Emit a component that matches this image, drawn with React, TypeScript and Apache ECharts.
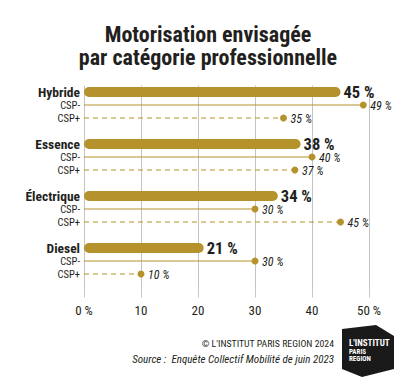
import React, { useEffect, useRef } from "react";
import * as echarts from "echarts";

const categories = ["Hybride", "Essence", "Électrique", "Diesel"];
const ensemble = [45, 38, 34, 21];
const cspMoins = [49, 40, 30, 30];
const cspPlus = [35, 37, 45, 10];
const subLabels = ["CSP-", "CSP+"];
const xTickLabels = ["0 %", "10", "20", "30", "40", "50 %"];

const GOLD = "#b5922b";
const DARK = "#231f20";
const GRID = "#c4c4c4";
const FONT = "'Roboto Condensed', 'DejaVu Sans Condensed', sans-serif";

// 4 slots per group: main bar, CSP-, CSP+, spacer
const slots: string[] = [];
categories.forEach((c) => {
  slots.push(c);
  subLabels.forEach((s) => slots.push(c + "|" + s));
  slots.push(c + "|gap");
});

const barData = slots.map((s, k) => (k % 4 === 0 ? ensemble[k / 4] : "-"));
const moinsData = cspMoins.map((v, i) => [v, i * 4 + 1]);
const plusData = cspPlus.map((v, i) => [v, i * 4 + 2]);

function makeRender(dashed: boolean) {
  return (params: any, api: any) => {
    const v = api.value(0);
    const s = api.value(1);
    const p0 = api.coord([0, s]);
    const p1 = api.coord([v, s]);
    return {
      type: "group",
      children: [
        {
          type: "line",
          shape: { x1: p0[0], y1: p0[1], x2: p1[0], y2: p1[1] },
          style: { stroke: GOLD, lineWidth: 1, lineDash: dashed ? [5, 4] : null },
        },
        {
          type: "circle",
          shape: { cx: p1[0], cy: p1[1], r: 3.5 },
          style: { fill: GOLD },
        },
        {
          type: "text",
          x: p1[0] + 7,
          y: p1[1] + 1,
          style: {
            text: v + " %",
            fontFamily: FONT,
            fontStyle: "italic",
            fontSize: 12,
            lineHeight: 12,
            fill: DARK,
            align: "left",
            verticalAlign: "middle",
          },
        },
      ],
    };
  };
}

export default function App() {
  const ref = useRef<HTMLDivElement>(null);
  useEffect(() => {
    const chart = echarts.init(ref.current!, null, { renderer: "svg" });
    chart.setOption({
      animation: false,
      backgroundColor: "#ffffff",
      textStyle: { fontFamily: FONT },
      grid: { left: 84, right: 38, top: 85.5, height: 208, containLabel: false },
      xAxis: {
        type: "value",
        min: 0,
        max: 50,
        interval: 10,
        axisLine: { show: false },
        axisTick: { show: true, length: 4, lineStyle: { color: GRID, width: 1 } },
        splitLine: { show: true, lineStyle: { color: GRID, width: 1 } },
        axisLabel: {
          margin: 10,
          fontFamily: FONT,
          fontSize: 13,
          color: DARK,
          formatter: (v: number) => xTickLabels[Math.round(v / 10)],
        },
      },
      yAxis: {
        type: "category",
        inverse: true,
        data: slots,
        axisLine: { show: false },
        axisTick: { show: false },
        splitLine: { show: false },
        axisLabel: {
          margin: 4,
          interval: 0,
          formatter: (s: string) => {
            const parts = s.split("|");
            if (parts.length === 1) return "{main|" + parts[0] + "}";
            if (parts[1] === "gap") return "";
            return "{sub|" + parts[1] + "}";
          },
          rich: {
            main: { fontFamily: FONT, fontWeight: "bold", fontSize: 13.5, lineHeight: 14, color: DARK },
            sub: { fontFamily: FONT, fontSize: 10.5, lineHeight: 11, color: DARK },
          },
        },
      },
      series: [
        {
          type: "bar",
          data: barData,
          barWidth: 10,
          itemStyle: { color: GOLD, borderRadius: 5 },
          label: {
            show: true,
            position: "right",
            distance: 3,
            fontFamily: FONT,
            fontWeight: "bold",
            fontSize: 16.5,
            lineHeight: 12,
            color: DARK,
            formatter: (p: any) => p.value + " %",
          },
        },
        {
          type: "custom",
          data: moinsData,
          encode: { x: 0, y: 1 },
          renderItem: makeRender(false),
          z: 3,
        },
        {
          type: "custom",
          data: plusData,
          encode: { x: 0, y: 1 },
          renderItem: makeRender(true),
          z: 3,
        },
      ],
      graphic: [
        {
          type: "text",
          x: 208,
          y: 34,
          style: {
            text: "Motorisation envisagée",
            fontFamily: FONT,
            fontWeight: "bold",
            fontSize: 22,
            lineHeight: 22,
            fill: DARK,
            align: "center",
            verticalAlign: "middle",
          },
        },
        {
          type: "text",
          x: 208,
          y: 57.5,
          style: {
            text: "par catégorie professionnelle",
            fontFamily: FONT,
            fontWeight: "bold",
            fontSize: 22,
            lineHeight: 22,
            fill: DARK,
            align: "center",
            verticalAlign: "middle",
          },
        },
        {
          type: "text",
          x: 334,
          y: 343,
          style: {
            text: "© L'INSTITUT PARIS REGION 2024",
            fontFamily: FONT,
            fontSize: 9.8,
            fill: DARK,
            align: "right",
            verticalAlign: "middle",
          },
        },
        {
          type: "text",
          x: 334,
          y: 359,
          style: {
            text: "Source :  Enquête Collectif Mobilité de juin 2023",
            fontFamily: FONT,
            fontStyle: "italic",
            fontSize: 11,
            fill: DARK,
            align: "right",
            verticalAlign: "middle",
          },
        },
        {
          type: "polygon",
          shape: {
            points: [
              [342, 329],
              [376, 325],
              [394, 336],
              [394, 369],
              [362, 377],
              [342, 369],
            ],
          },
          style: { fill: "#1a1a1a" },
        },
        {
          type: "text",
          x: 349,
          y: 343,
          style: {
            text: "L'INSTITUT",
            fontFamily: FONT,
            fontWeight: "bold",
            fontSize: 9,
            fill: "#ffffff",
            align: "left",
            verticalAlign: "middle",
          },
        },
        {
          type: "text",
          x: 349,
          y: 355.5,
          style: {
            text: "PARIS\nREGION",
            fontFamily: FONT,
            fontWeight: "bold",
            fontSize: 7,
            lineHeight: 7,
            fill: "#ffffff",
            align: "left",
            verticalAlign: "middle",
          },
        },
      ],
    });
    return () => chart.dispose();
  }, []);
  return (
    <div
      ref={ref}
      style={{ position: "fixed", left: 0, top: 0, width: 407, height: 382 }}
    />
  );
}
